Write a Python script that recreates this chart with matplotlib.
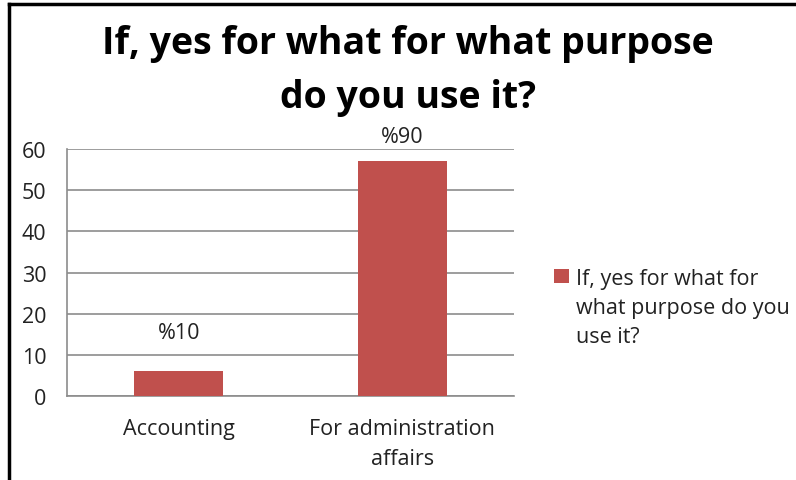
import matplotlib.pyplot as plt
from matplotlib.lines import Line2D

# survey answers
categories = ["Accounting", "For administration\naffairs"]
counts = [6, 57]
series_name = "If, yes for what for\nwhat purpose do you\nuse it?"
title = "If, yes for what for what purpose\ndo you use it?"
yticks = [0, 10, 20, 30, 40, 50, 60]

plt.rcParams['font.family'] = ['Open Sans', 'DejaVu Sans']

fig = plt.figure(figsize=(7.96, 4.81), dpi=100)
ax = fig.add_axes([0.0842, 0.1746, 0.5616, 0.5135])

x = list(range(len(categories)))
bars = ax.bar(x, counts, width=0.4, color="#C0504D", zorder=3, label=series_name)

ax.set_xlim(-0.5, len(categories) - 0.5)
ax.set_ylim(0, 60)
ax.set_yticks(yticks)
ax.set_xticks(x)
ax.set_xticklabels(categories, fontsize=15.5, color="#222222", linespacing=1.52)
ax.tick_params(axis='y', length=0, pad=15, labelsize=15.5, labelcolor="#222222")
ax.tick_params(axis='x', length=0, pad=16)

ax.grid(axis='y', color="#8c8c8c", linewidth=1.2, zorder=0)
for side in ["top", "right"]:
    ax.spines[side].set_visible(False)
ax.spines["left"].set_color("#8c8c8c")
ax.spines["bottom"].set_color("#8c8c8c")
ax.spines["left"].set_linewidth(1.2)
ax.spines["bottom"].set_linewidth(1.2)

# percentage labels over the bars
total = sum(counts)
offsets = [28, 18]
for xi, c, off in zip(x, counts, offsets):
    ax.annotate("%" + str(round(100 * c / total)), (xi, c), xytext=(0, off),
                textcoords="offset points", ha="center", va="center",
                fontsize=15.5, color="#222222", annotation_clip=False)

fig.suptitle(title, x=0.513, y=0.948, fontsize=27, fontweight="bold",
             linespacing=1.55, va="top")

leg = ax.legend(loc="center left", bbox_to_anchor=(1.045, 0.36), frameon=False,
                fontsize=15.5, handlelength=0.7, handleheight=0.7, handletextpad=0.35,
                labelspacing=0.2)
for t in leg.get_texts():
    t.set_linespacing(1.5)
    t.set_color("#222222")
# keep the swatch beside the first line of the label
for h in leg.legend_handles:
    h.set_height(10)
    h.set_y(h.get_y() + 23)

# frame lines along the left and top edge
fig.add_artist(Line2D([0.0113, 0.0113], [0, 0.99], transform=fig.transFigure,
                      color="black", linewidth=2.5))
fig.add_artist(Line2D([0.0113, 1.0], [0.99, 0.99], transform=fig.transFigure,
                      color="black", linewidth=2.5))

fig.savefig("out.png", dpi=100)
